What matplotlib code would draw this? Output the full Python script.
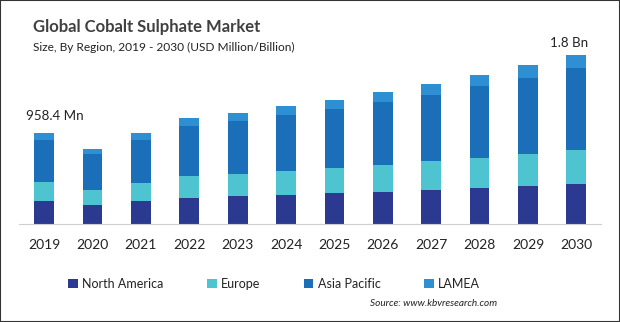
import matplotlib.pyplot as plt
from matplotlib.patches import Patch, Rectangle
import numpy as np

plt.rcParams['font.family'] = ['Lato', 'DejaVu Sans']

# values in USD million
years = ['2019', '2020', '2021', '2022', '2023', '2024',
         '2025', '2026', '2027', '2028', '2029', '2030']
north_america = [242, 200, 242, 274, 295, 305, 326, 337, 358, 379, 400, 421]
europe = [203, 161, 190, 232, 232, 253, 263, 284, 305, 316, 337, 358]
asia_pacific = [439, 379, 453, 527, 558, 590, 621, 663, 695, 758, 800, 863]
lamea = [74, 49, 74, 84, 81, 95, 95, 105, 116, 116, 137, 137]

regions = ['North America', 'Europe', 'Asia Pacific', 'LAMEA']
colors = ['#2b3990', '#4dc4d0', '#1b6fb8', '#2f8fd3']
series = [north_america, europe, asia_pacific, lamea]

fig = plt.figure(figsize=(6.2, 3.22), dpi=100)
ax = fig.add_axes([19 / 620, 98 / 322, 582 / 620, 190 / 322])

x = np.arange(len(years))
bottom = np.zeros(len(years))
for vals, col in zip(series, colors):
    ax.bar(x, vals, bottom=bottom, width=0.41, color=col, zorder=2)
    bottom += np.array(vals)

ax.set_xlim(-0.52, 11.51)
ax.set_ylim(0, 2000)
ax.set_xticks(x)
ax.set_xticklabels(years, fontsize=10, color='#222222')
ax.tick_params(axis='x', length=0, pad=11)
ax.set_yticks([])
for s in ['top', 'right', 'left']:
    ax.spines[s].set_visible(False)
ax.spines['bottom'].set_color('#d0d0d0')

# total labels for first and last year
ax.annotate('958.4 Mn', (x[0], bottom[0]), xytext=(11, 17), textcoords='offset pixels',
            ha='center', va='center', fontsize=9.6, color='#222222')
ax.annotate('1.8 Bn', (x[-1], bottom[-1]), xytext=(-7, 12), textcoords='offset pixels',
            ha='center', va='center', fontsize=9.6, color='#222222')

fig.text(33 / 620, 1 - 27 / 322, 'Global Cobalt Sulphate Market',
         fontsize=12, fontweight='bold', color='#404040', va='center')
fig.text(33 / 620, 1 - 47 / 322, 'Size, By Region, 2019 - 2030 (USD Million/Billion)',
         fontsize=8.6, color='#222222', va='center')

handles = [Patch(facecolor=c, label=r) for r, c in zip(regions, colors)]
fig.legend(handles=handles, loc='center left', bbox_to_anchor=(57 / 620, 1 - 284 / 322),
           ncol=4, frameon=False, fontsize=9, handlelength=0.75, handleheight=0.75,
           handletextpad=0.35, columnspacing=3.5, labelcolor='#222222')

fig.text(497 / 620, 1 - 304 / 322, 'Source: www.kbvresearch.com',
         fontsize=7.2, style='italic', color='#222222', ha='right', va='center')

fig.patches.append(Rectangle((0, 0), 1, 1, transform=fig.transFigure, fill=False,
                             edgecolor='#333333', linewidth=1.5))

fig.savefig('out.png', dpi=100)
